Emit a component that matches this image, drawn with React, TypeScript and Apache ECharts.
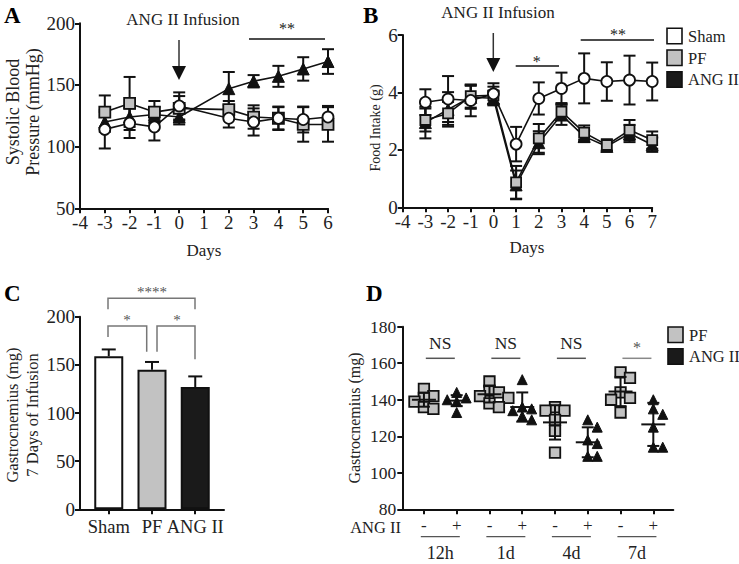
import React, { useEffect, useRef } from "react";
import * as echarts from "echarts";

const FONT = "Liberation Serif, Times New Roman, serif";
const INK = "#111";
const TXT = "#222";
const GRAY = "#c2c2c2";

// ---------- Panel A: Systolic blood pressure ----------
const daysA = [-3, -2, -1, 0, 2, 3, 4, 5, 6];
const shamA = [114, 119, 116, 133, 123, 120, 123, 122, 124];
const shamAErr = [15.5, 12, 11, 11, 7.5, 11, 9.5, 10.5, 9];
const pfA = [128, 135, 128, 131, 130, 124, 123, 118, 118];
const pfAErr = [13.5, 21.5, 9, 10, 7, 9.5, 9, 14, 14];
const angA = [120, 124, 126, 124, 147, 153, 157, 163, 169];
const angAErr = [8, 8, 6, 6, 13.5, 5, 8.5, 9.5, 10];

// ---------- Panel B: Food intake ----------
const daysB = [-3, -2, -1, 0, 1, 2, 3, 4, 5, 6, 7];
const shamB = [3.66, 3.77, 3.72, 3.95, 2.2, 3.79, 4.14, 4.49, 4.38, 4.43, 4.38];
const shamBErr = [0.45, 0.8, 0.55, 0.37, 0.6, 0.56, 0.55, 0.87, 0.67, 0.85, 0.66];
const pfB = [3.04, 3.27, 3.87, 3.9, 0.87, 2.4, 3.33, 2.6, 2.17, 2.69, 2.34];
const pfBErr = [0.4, 0.4, 0.4, 0.3, 0.57, 0.5, 0.3, 0.25, 0.2, 0.35, 0.3];
const angB = [2.95, 3.41, 3.83, 3.8, 0.78, 2.25, 3.22, 2.47, 2.12, 2.57, 2.18];
const angBErr = [0.55, 0.6, 0.4, 0.25, 0.5, 0.4, 0.35, 0.2, 0.15, 0.3, 0.25];

// ---------- Panel C: Gastrocnemius after 7 days ----------
const groupsC = ["Sham", "PF", "ANG II"];
const valuesC = [159, 145, 127];
const errC = [7, 8, 11];
const colorsC = ["#ffffff", GRAY, "#1a1a1a"];

// ---------- Panel D: Gastrocnemius time course ----------
const timesD = ["12h", "1d", "4d", "7d"];
const pfD = [
  [146, 142, 141, 139, 136, 135],
  [150, 145, 144, 142, 141, 138, 136],
  [136, 134, 134, 129, 123, 111],
  [155, 152, 144, 141, 140, 133],
];
const angD = [
  [144, 141, 140, 139, 133],
  [151, 136, 135, 134, 131, 129],
  [129, 125, 118, 116, 109, 109],
  [140, 135, 132, 125, 114, 114],
];
const pfDMean = [140, 143, 127.6, 144.5];
const pfDSd = [3.8, 4.5, 9.4, 8];
const angDMean = [139.5, 136, 116.7, 126.5];
const angDSd = [3, 8, 8.2, 11.8];
const sigD = ["NS", "NS", "NS", "*"];

// legends
const legendB = ["Sham", "PF", "ANG II"];
const legendBColors = ["#ffffff", GRAY, "#1a1a1a"];
const legendD = ["PF", "ANG II"];
const legendDColors = [GRAY, "#1a1a1a"];

// grid geometry
const GA = { left: 80, top: 23.3, width: 248, height: 185 };
const GB = { left: 402.7, top: 35, width: 249.5, height: 172.3 };
const GC = { left: 80, top: 316.7, width: 144, height: 192.6 };
const GD = { left: 402.3, top: 326.7, width: 271, height: 182.6 };
const DX = { min: -0.66, max: 7.61 };

function swarm(center: number, vals: number[], pxPerX: number, pxPerY: number, size: number) {
  const placed: [number, number][] = [];
  const out: number[][] = [];
  const order = vals.map((_, i) => i).sort((a, b) => vals[b] - vals[a]);
  for (const i of order) {
    const y = vals[i] * pxPerY;
    let best = 0;
    for (let k = 0; k < 30; k++) {
      const cand = k === 0 ? 0 : (k % 2 ? 1 : -1) * Math.ceil(k / 2) * size * 0.45;
      if (placed.every(([px, py]) => Math.hypot(px - cand, py - y) >= size * 0.85)) {
        best = cand;
        break;
      }
    }
    placed.push([best, y]);
    out[i] = [center + best / pxPerX, vals[i]];
  }
  return out;
}

function errSeries(xi: number, xs: number[], means: number[], errs: number[], cap: number, upOnly = false) {
  return {
    type: "custom",
    xAxisIndex: xi,
    yAxisIndex: xi,
    z: 1,
    silent: true,
    data: xs.map((x, i) => [x, upOnly ? means[i] : means[i] - errs[i], means[i] + errs[i]]),
    encode: { x: 0, y: [1, 2] },
    renderItem: (_p: any, api: any) => {
      const x = api.value(0);
      const lo = api.coord([x, api.value(1)]);
      const hi = api.coord([x, api.value(2)]);
      const st = { stroke: INK, lineWidth: 2 };
      const children: any[] = [
        { type: "line", shape: { x1: hi[0], y1: hi[1], x2: lo[0], y2: lo[1] }, style: st },
        { type: "line", shape: { x1: hi[0] - cap, y1: hi[1], x2: hi[0] + cap, y2: hi[1] }, style: st },
      ];
      if (!upOnly)
        children.push({ type: "line", shape: { x1: lo[0] - cap, y1: lo[1], x2: lo[0] + cap, y2: lo[1] }, style: st });
      return { type: "group", children };
    },
  };
}

function meanSdSeries(xs: number[], means: number[], sds: number[]) {
  return {
    type: "custom",
    xAxisIndex: 3,
    yAxisIndex: 3,
    z: 5,
    silent: true,
    data: xs.map((x, i) => [x, means[i], means[i] - sds[i], means[i] + sds[i]]),
    encode: { x: 0, y: [1, 2, 3] },
    renderItem: (_p: any, api: any) => {
      const x = api.value(0);
      const m = api.coord([x, api.value(1)]);
      const lo = api.coord([x, api.value(2)]);
      const hi = api.coord([x, api.value(3)]);
      const st = { stroke: INK, lineWidth: 2 };
      return {
        type: "group",
        children: [
          { type: "line", shape: { x1: hi[0], y1: hi[1], x2: lo[0], y2: lo[1] }, style: st },
          { type: "line", shape: { x1: m[0] - 12, y1: m[1], x2: m[0] + 12, y2: m[1] }, style: st },
          { type: "line", shape: { x1: hi[0] - 6, y1: hi[1], x2: hi[0] + 6, y2: hi[1] }, style: st },
          { type: "line", shape: { x1: lo[0] - 6, y1: lo[1], x2: lo[0] + 6, y2: lo[1] }, style: st },
        ],
      };
    },
  };
}

const axisCommon = {
  axisLine: { onZero: false, lineStyle: { color: INK, width: 2 } },
  axisTick: { length: 5, lineStyle: { color: INK, width: 2 } },
  splitLine: { show: false },
  axisLabel: { fontFamily: FONT, fontSize: 19, color: TXT, margin: 5 },
};

const circleStyle = { color: "#ffffff", borderColor: INK, borderWidth: 1.8, opacity: 1 };
const squareStyle = { color: GRAY, borderColor: INK, borderWidth: 1.8, opacity: 1 };
const triStyle = { color: INK, borderColor: INK, borderWidth: 1, opacity: 1 };

function lineSeries(name: string, idx: number, xs: number[], ys: number[], symbol: string, size: number, itemStyle: any, z: number) {
  return {
    name,
    type: "line",
    xAxisIndex: idx,
    yAxisIndex: idx,
    data: xs.map((x, i) => [x, ys[i]]),
    symbol,
    symbolSize: size,
    showSymbol: true,
    itemStyle,
    lineStyle: { color: INK, width: 1.6 },
    z,
  };
}

function text(x: number, y: number, t: string, size: number, opts: any = {}) {
  return {
    type: "text",
    x,
    y,
    rotation: opts.rotation || 0,
    style: {
      text: t,
      fontFamily: FONT,
      fontSize: size,
      fontWeight: opts.bold ? "bold" : "normal",
      fill: opts.fill || TXT,
      align: opts.align || "center",
      verticalAlign: opts.va || "middle",
      lineHeight: opts.lineHeight,
    },
  };
}
function ln(x1: number, y1: number, x2: number, y2: number, color = INK, w = 1.6) {
  return { type: "line", shape: { x1, y1, x2, y2 }, style: { stroke: color, lineWidth: w } };
}
function poly(points: number[][], color: string, w = 1.5) {
  return { type: "polyline", shape: { points }, style: { stroke: color, lineWidth: w, fill: "none" } };
}
function arrow(x: number, y1: number, y2: number) {
  return [
    ln(x, y1, x, y2 - 12, "#333", 1.5),
    { type: "polygon", shape: { points: [[x - 7, y2 - 14], [x + 7, y2 - 14], [x, y2]] }, style: { fill: INK } },
  ];
}
function legendItems(x: number, y: number, names: string[], colors: string[]) {
  const out: any[] = [];
  names.forEach((n, i) => {
    const top = y + i * 21.7;
    out.push({
      type: "rect",
      shape: { x, y: top, width: 15, height: 15.5 },
      style: { fill: colors[i], stroke: INK, lineWidth: 1.6 },
    });
    out.push(text(x + 21, top + 8, n, 16.5, { align: "left" }));
  });
  return out;
}

export default function App() {
  const ref = useRef<HTMLDivElement>(null);
  useEffect(() => {
    if (!ref.current) return;
    const chart = echarts.init(ref.current, undefined, { renderer: "svg" });

    const dPxX = GD.width / (DX.max - DX.min);
    const dPxY = GD.height / 100;
    const pfPts = pfD.flatMap((vals, g) => swarm(g * 2, vals, dPxX, dPxY, 10.5));
    const angPts = angD.flatMap((vals, g) => swarm(g * 2 + 1, vals, dPxX, dPxY, 10.5));
    const pfX = timesD.map((_, g) => g * 2);
    const angX = timesD.map((_, g) => g * 2 + 1);

    const dCenters = timesD.map((_, g) => GD.left + ((g * 2 + 0.5 - DX.min) / (DX.max - DX.min)) * GD.width);

    const graphic: any[] = [
      // Panel letters
      text(4, 4, "A", 23, { bold: true, align: "left", va: "top", fill: "#000" }),
      text(363, 4, "B", 23, { bold: true, align: "left", va: "top", fill: "#000" }),
      text(4, 282, "C", 23, { bold: true, align: "left", va: "top", fill: "#000" }),
      text(366, 282, "D", 23, { bold: true, align: "left", va: "top", fill: "#000" }),
      // Panel A annotations
      text(183, 19, "ANG II Infusion", 17),
      ...arrow(179, 40, 80),
      text(287, 28, "**", 16),
      ln(249, 39, 325, 39),
      text(23, 112, "Systolic Blood\nPressure (mmHg)", 18, { rotation: Math.PI / 2, lineHeight: 20 }),
      text(204, 250, "Days", 17),
      // Panel B annotations
      text(498, 12, "ANG II Infusion", 17),
      ...arrow(493.3, 33, 72),
      text(536.7, 61, "*", 16),
      ln(515.7, 66, 559, 66),
      text(618, 34, "**", 16),
      ln(580.7, 40, 654, 40),
      text(375, 128, "Food Intake (g)", 14, { rotation: Math.PI / 2 }),
      text(527, 247, "Days", 17),
      ...legendItems(667, 28.3, legendB, legendBColors),
      // Panel C annotations
      text(22, 415, "Gastrocnemius (mg)\n7 Days of Infusion", 16.5, { rotation: Math.PI / 2, lineHeight: 20 }),
      poly([[108, 309.3], [108, 298.3], [195, 298.3], [195, 309.3]], "#777"),
      poly([[108, 337], [108, 326], [146.7, 326], [146.7, 351.7]], "#777"),
      poly([[157, 351.7], [157, 326], [195, 326], [195, 359.3]], "#777"),
      text(152, 292, "****", 15, { fill: "#555" }),
      text(127, 320, "*", 15, { fill: "#555" }),
      text(177, 320, "*", 15, { fill: "#555" }),
      // Panel D annotations
      text(354, 418, "Gastrocnemius (mg)", 16, { rotation: Math.PI / 2 }),
      text(401, 527.5, "ANG II", 16.5, { align: "right" }),
      ...legendItems(668, 327, legendD, legendDColors),
    ];
    dCenters.forEach((cx, g) => {
      const isStar = sigD[g] === "*";
      graphic.push(text(cx, isStar ? 347 : 343.3, sigD[g], isStar ? 16 : 17.5, { fill: isStar ? "#555" : TXT }));
      graphic.push(ln(cx - 14.5, 358.3, cx + 14.5, 358.3, isStar ? "#888" : "#555", 1.5));
      graphic.push(ln(cx - 19.5, 536.7, cx + 19.5, 536.7, "#555", 1.2));
      graphic.push(text(cx, 553, timesD[g], 18));
    });

    chart.setOption({
      animation: false,
      grid: [GA, GB, GC, GD].map((g) => ({ ...g, containLabel: false })),
      xAxis: [
        { ...axisCommon, type: "value", gridIndex: 0, min: -4, max: 6, interval: 1 },
        { ...axisCommon, type: "value", gridIndex: 1, min: -4, max: 7, interval: 1 },
        {
          ...axisCommon,
          type: "value",
          gridIndex: 2,
          min: -0.665,
          max: 2.665,
          axisTick: { ...axisCommon.axisTick, customValues: [0, 1, 2] },
          axisLabel: {
            ...axisCommon.axisLabel,
            fontSize: 18.5,
            margin: 8,
            customValues: [0, 1, 2],
            formatter: (v: number) => groupsC[Math.round(v)] ?? "",
          },
        },
        {
          ...axisCommon,
          type: "value",
          gridIndex: 3,
          min: DX.min,
          max: DX.max,
          axisTick: { ...axisCommon.axisTick, customValues: [0, 1, 2, 3, 4, 5, 6, 7] },
          axisLabel: {
            ...axisCommon.axisLabel,
            fontSize: 17,
            margin: 8,
            customValues: [0, 1, 2, 3, 4, 5, 6, 7],
            formatter: (v: number) => (Math.round(v) % 2 === 0 ? "-" : "+"),
          },
        },
      ],
      yAxis: [
        { ...axisCommon, type: "value", gridIndex: 0, min: 50, max: 200, interval: 50 },
        { ...axisCommon, type: "value", gridIndex: 1, min: 0, max: 6, interval: 2 },
        { ...axisCommon, type: "value", gridIndex: 2, min: 0, max: 200, interval: 50 },
        {
          ...axisCommon,
          type: "value",
          gridIndex: 3,
          min: 80,
          max: 180,
          interval: 20,
          axisLabel: { ...axisCommon.axisLabel, fontSize: 17.5, margin: 6 },
        },
      ],
      graphic,
      series: [
        // Panel A
        errSeries(0, daysA, angA, angAErr, 6),
        errSeries(0, daysA, pfA, pfAErr, 6),
        errSeries(0, daysA, shamA, shamAErr, 6),
        lineSeries("ANG II", 0, daysA, angA, "triangle", 12, triStyle, 3),
        lineSeries("PF", 0, daysA, pfA, "rect", 11, squareStyle, 4),
        lineSeries("Sham", 0, daysA, shamA, "circle", 11, circleStyle, 5),
        // Panel B
        errSeries(1, daysB, angB, angBErr, 6),
        errSeries(1, daysB, pfB, pfBErr, 6),
        errSeries(1, daysB, shamB, shamBErr, 6),
        lineSeries("ANG II", 1, daysB, angB, "triangle", 12, triStyle, 3),
        lineSeries("PF", 1, daysB, pfB, "rect", 10, squareStyle, 4),
        lineSeries("Sham", 1, daysB, shamB, "circle", 11, circleStyle, 5),
        // Panel C
        errSeries(2, [0, 1, 2], valuesC, errC, 7, true),
        {
          type: "bar",
          xAxisIndex: 2,
          yAxisIndex: 2,
          barWidth: 29,
          z: 3,
          data: valuesC.map((v, i) => ({
            value: [i, v],
            itemStyle: { color: colorsC[i], borderColor: INK, borderWidth: 2 },
          })),
        },
        // Panel D
        meanSdSeries(pfX, pfDMean, pfDSd),
        meanSdSeries(angX, angDMean, angDSd),
        {
          name: "PF",
          type: "scatter",
          xAxisIndex: 3,
          yAxisIndex: 3,
          symbol: "rect",
          symbolSize: 10.5,
          itemStyle: squareStyle,
          data: pfPts,
          z: 4,
        },
        {
          name: "ANG II",
          type: "scatter",
          xAxisIndex: 3,
          yAxisIndex: 3,
          symbol: "triangle",
          symbolSize: 10,
          itemStyle: triStyle,
          data: angPts,
          z: 4,
        },
      ],
    });
    return () => chart.dispose();
  }, []);
  return <div ref={ref} style={{ position: "absolute", left: 0, top: 0, width: 739, height: 564 }} />;
}
